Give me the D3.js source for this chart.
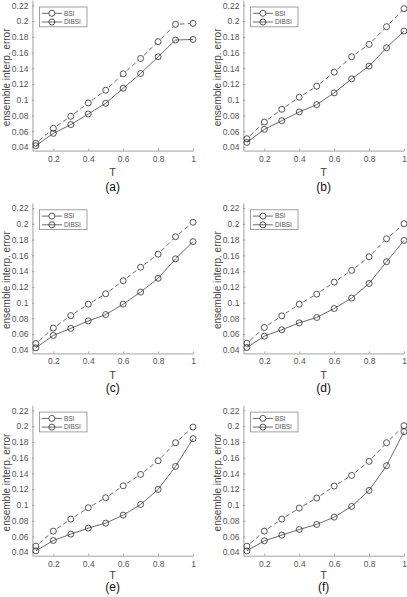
<!DOCTYPE html>
<html>
<head>
<meta charset="utf-8">
<script src="https://cdn.jsdelivr.net/npm/d3@7"></script>
<style>
  body { margin: 0; background: #fff; }
  svg { display: block; font-family: Arial, "Liberation Sans", Helvetica, sans-serif; }
</style>
</head>
<body>
<svg id="chart" width="407" height="597"></svg>
<script>
// x values shared by every panel
const T = [0.1, 0.2, 0.3, 0.4, 0.5, 0.6, 0.7, 0.8, 0.9, 1.0];

// BSI (dashed) and DIBSI (solid)
const bsiA   = [0.0447, 0.0638, 0.0791, 0.0960, 0.1122, 0.1330, 0.1525, 0.1738, 0.1958, 0.1971];
const dibsiA = [0.0417, 0.0574, 0.0685, 0.0820, 0.0956, 0.1147, 0.1334, 0.1547, 0.1759, 0.1767];
const bsiB   = [0.0506, 0.0718, 0.0880, 0.1033, 0.1173, 0.1351, 0.1547, 0.1704, 0.1929, 0.2158];
const dibsiB = [0.0459, 0.0625, 0.0735, 0.0846, 0.0939, 0.1088, 0.1266, 0.1428, 0.1661, 0.1873];
const bsiC   = [0.0481, 0.0677, 0.0835, 0.0980, 0.1112, 0.1278, 0.1449, 0.1615, 0.1837, 0.2020];
const dibsiC = [0.0426, 0.0583, 0.0673, 0.0767, 0.0848, 0.0980, 0.1134, 0.1309, 0.1556, 0.1774];
const bsiD   = [0.0485, 0.0684, 0.0832, 0.0980, 0.1108, 0.1260, 0.1409, 0.1582, 0.1811, 0.2002];
const dibsiD = [0.0430, 0.0574, 0.0655, 0.0743, 0.0811, 0.0925, 0.1057, 0.1243, 0.1519, 0.1790];
const bsiE   = [0.0476, 0.0667, 0.0820, 0.0964, 0.1091, 0.1243, 0.1387, 0.1561, 0.1790, 0.1989];
const dibsiE = [0.0417, 0.0548, 0.0629, 0.0705, 0.0769, 0.0870, 0.1006, 0.1197, 0.1489, 0.1841];
const bsiF   = [0.0476, 0.0667, 0.0820, 0.0960, 0.1087, 0.1239, 0.1375, 0.1553, 0.1790, 0.2006];
const dibsiF = [0.0417, 0.0544, 0.0616, 0.0688, 0.0752, 0.0845, 0.0981, 0.1184, 0.1498, 0.1930];

const panelLabels = ['(a)', '(b)', '(c)', '(d)', '(e)', '(f)'];
const seriesNames = ['BSI', 'DIBSI'];
const xTicks = [0.2, 0.4, 0.6, 0.8, 1];
const yTicks = [0.04, 0.06, 0.08, 0.1, 0.12, 0.14, 0.16, 0.18, 0.2, 0.22];

const panels = [
  [bsiA, dibsiA], [bsiB, dibsiB],
  [bsiC, dibsiC], [bsiD, dibsiD],
  [bsiE, dibsiE], [bsiF, dibsiF]
];

const config = {
  colLeft: [32.4, 243.4],
  rowTop: [0.2, 203, 405.3],
  // bottom row is squeezed a bit in the original
  tOffset: [21.3, 21.5, 19.5],
  labelOffset: [36.3, 34.3, 30.8],
  width: 160.6,
  height: 150.4,
  axis: '#8a8a8a',
  text: '#555',
  ink: '#2b2b2b',
  r: 3
};

const svg = d3.select('#chart');
const fmt = v => String(+v.toFixed(2));

panels.forEach((series, i) => {
  const col = i % 2, row = Math.floor(i / 2);
  const left = config.colLeft[col];
  const top = config.rowTop[row];
  const w = config.width, h = config.height;

  const x = d3.scaleLinear().domain([0.08, 1]).range([0, w]);
  const y = d3.scaleLinear().domain([0.0355, 0.2265]).range([h, 0]);

  const g = svg.append('g').attr('transform', `translate(${left},${top})`);

  // axes, ticks inward like matlab
  const xAxis = g.append('g').attr('transform', `translate(0,${h})`)
    .call(d3.axisBottom(x).tickValues(xTicks).tickFormat(fmt).tickSizeInner(-2).tickSizeOuter(0).tickPadding(5));
  const yAxis = g.append('g')
    .call(d3.axisLeft(y).tickValues(yTicks).tickFormat(fmt).tickSizeInner(-2).tickSizeOuter(0).tickPadding(4));

  [xAxis, yAxis].forEach(a => {
    a.select('.domain').attr('stroke', config.axis).attr('stroke-width', 0.8);
    a.selectAll('.tick line').attr('stroke', config.axis).attr('stroke-width', 0.8);
    a.selectAll('.tick text').attr('fill', config.text).style('font-size', '8.5px');
  });

  // dashed BSI: each segment trimmed at the markers
  const pts0 = T.map((t, k) => [x(t), y(series[0][k])]);
  const segs = d3.pairs(pts0).map(([p, q]) => {
    const dx = q[0] - p[0], dy = q[1] - p[1];
    const len = Math.hypot(dx, dy);
    const ux = dx / len, uy = dy / len;
    return [p[0] + ux * config.r, p[1] + uy * config.r, q[0] - ux * config.r, q[1] - uy * config.r];
  });
  g.append('g').selectAll('line').data(segs).enter().append('line')
    .attr('x1', d => d[0]).attr('y1', d => d[1])
    .attr('x2', d => d[2]).attr('y2', d => d[3])
    .attr('stroke', config.ink).attr('stroke-width', 0.7)
    .attr('stroke-dasharray', '4.5,3').attr('stroke-dashoffset', -1.5);

  // solid DIBSI
  const line = d3.line().x((d, k) => x(T[k])).y(d => y(d));
  g.append('path').datum(series[1]).attr('d', line)
    .attr('fill', 'none').attr('stroke', config.ink).attr('stroke-width', 0.7);

  series.forEach(s => {
    g.append('g').selectAll('circle').data(s).enter().append('circle')
      .attr('cx', (d, k) => x(T[k])).attr('cy', d => y(d))
      .attr('r', config.r).attr('fill', 'none')
      .attr('stroke', config.ink).attr('stroke-width', 0.8);
  });

  // legend
  const lg = g.append('g').attr('transform', 'translate(7,6.8)');
  lg.append('rect').attr('width', 47.6).attr('height', 19.8)
    .attr('fill', '#fff').attr('stroke', config.axis).attr('stroke-width', 0.8);
  seriesNames.forEach((name, k) => {
    const ly = 6.3 + k * 8.7;
    lg.append('line').attr('x1', 2.5).attr('x2', 22.5).attr('y1', ly).attr('y2', ly)
      .attr('stroke', config.ink).attr('stroke-width', 0.7);
    lg.append('circle').attr('cx', 12.5).attr('cy', ly).attr('r', config.r)
      .attr('fill', k === 0 ? '#fff' : 'none').attr('stroke', config.ink).attr('stroke-width', 0.8);
    lg.append('text').attr('x', 24.5).attr('y', ly).attr('dy', '0.35em')
      .attr('fill', config.text).style('font-size', '6.5px').text(name);
  });

  // labels
  g.append('text').attr('x', w / 2).attr('y', h + config.tOffset[row]).attr('dy', '0.35em')
    .attr('text-anchor', 'middle').attr('fill', '#444').style('font-size', '11px').text('T');
  g.append('text').attr('x', w / 2).attr('y', h + config.labelOffset[row]).attr('dy', '0.35em')
    .attr('text-anchor', 'middle').attr('fill', '#111').style('font-size', '12px').text(panelLabels[i]);
  g.append('text')
    .attr('transform', `translate(${-25.6},${h / 2 + 2}) rotate(-90)`)
    .attr('dy', '0.35em').attr('text-anchor', 'middle').attr('fill', '#444')
    .style('font-size', '10px').text('ensemble interp. error');
});
</script>
</body>
</html>
